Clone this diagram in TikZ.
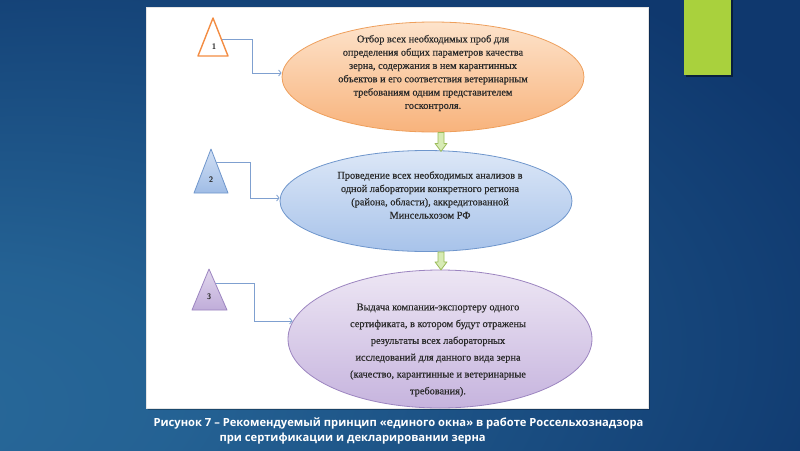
\documentclass[tikz,border=0pt]{standalone}
\usepackage{fontspec}
\setmainfont{Liberation Serif}
\newfontfamily\capfont{Open Sans}
\newfontfamily\ellfont{Liberation Serif}[FakeBold=0.5]
\usetikzlibrary{shapes.geometric,arrows.meta,calc}

\definecolor{bgdark}{HTML}{0F386E}
\definecolor{bglight}{HTML}{28699A}
\definecolor{barlime}{HTML}{A9D13D}
\definecolor{lnblue}{HTML}{7FA0D0}
\definecolor{txtgray}{HTML}{2A2A2A}
\definecolor{orline}{HTML}{EE9F5C}
\definecolor{ortop}{HTML}{FDE3CB}
\definecolor{orbot}{HTML}{F8B37C}
\definecolor{blline}{HTML}{6F96CC}
\definecolor{bltop}{HTML}{DCE7F7}
\definecolor{blbot}{HTML}{A8C3EA}
\definecolor{puline}{HTML}{9C85C0}
\definecolor{putop}{HTML}{EDE6F4}
\definecolor{pubot}{HTML}{C6B4DE}
\definecolor{grline}{HTML}{9BBB59}
\definecolor{grfill}{HTML}{D7EBB4}

\pgfdeclareradialshading{bgglow}{\pgfpoint{-32bp}{-22bp}}{color(0bp)=(bglight); color(14bp)=(bglight!85!bgdark); color(48bp)=(bgdark); color(100bp)=(bgdark)}

\begin{document}
\begin{tikzpicture}[x=1pt,y=-1pt,
  ell/.style={ellipse,inner sep=0pt,line width=.8pt},
  etext/.style={align=center,text=txtgray,font=\ellfont\fontsize{10.3}{13.3}\selectfont},
  num/.style={font=\sffamily\bfseries\fontsize{8}{9}\selectfont,text=txtgray},
  conn/.style={draw=lnblue,line width=.8pt,-{Straight Barb[length=2.5pt,width=6pt]}},
  garrow/.style={draw=grline,fill=grfill,line width=.8pt,line join=round},
  captext/.style={anchor=west,text=white,font=\capfont\bfseries\fontsize{11.2}{13}\selectfont}]

\useasboundingbox (0,0) rectangle (800,450);

\shade [shading=bgglow] (0,0) rectangle (800,450);

\fill [black,opacity=.45] (686,0) rectangle (733,77);
\fill [barlime] (684,0) rectangle (731,75);

\fill [black,opacity=.25] (148,9) rectangle (650,410);
\draw [white!80!gray,fill=white,line width=.6pt] (146,7) rectangle (648,408);

\begin{scope}
\clip (146,7) rectangle (648,410);

\node [ell,draw=orline,top color=ortop,bottom color=orbot,minimum width=302,minimum height=110] (e1) at (433,77) {};
\node [ell,draw=blline,top color=bltop,bottom color=blbot,minimum width=292,minimum height=101] (e2) at (426,201) {};
\node [ell,draw=puline,top color=putop,bottom color=pubot,minimum width=304,minimum height=138] (e3) at (440,339) {};

\node [etext] (t1) at (433,73) {Отбор всех необходимых проб для\\
определения общих параметров качества\\
зерна, содержания в нем карантинных\\
объектов и его соответствия ветеринарным\\
требованиям одним представителем\\
госконтроля.};
\node [etext] (t2) at (430,195) {Проведение всех необходимых анализов в\\
одной лаборатории конкретного региона\\
(района, области), аккредитованной\\
Минсельхозом РФ};
\node [etext,font=\ellfont\fontsize{10.3}{16.8}\selectfont] (t3) at (438,350) {Выдача компании-экспортеру одного\\
сертификата, в котором будут отражены\\
результаты всех лабораторных\\
исследований для данного вида зерна\\
(качество, карантинные и ветеринарные\\
требования).};

\draw [garrow] ($(e1.south)+(5,0)$) -- ++(6,0) -- ++(0,11) -- ++(3,0) -- ++(-6,8) -- ++(-6,-8) -- ++(3,0) -- cycle;
\draw [garrow] ($(e2.south)+(12,0)$) -- ++(6,0) -- ++(0,10) -- ++(3,0) -- ++(-6,8) -- ++(-6,-8) -- ++(3,0) -- cycle;

\coordinate (a1) at (213,18);
\coordinate (l1) at (198,56);
\coordinate (r1) at (228,56);
\coordinate (a2) at (211,149);
\coordinate (l2) at (194,193);
\coordinate (r2) at (228,193);
\coordinate (a3) at (209,269);
\coordinate (l3) at (192,310);
\coordinate (r3) at (227,310);

\coordinate (s1) at ($(a1)!0.55!(r1)$);
\coordinate (s2) at ($(a2)!0.3!(r2)$);
\coordinate (s3) at ($(a3)!0.34!(r3)$);
\coordinate (k1) at (252,73);
\coordinate (k2) at (250,198);
\coordinate (k3) at (254,321);

\draw [conn] (s1) -| (k1) -- (k1 -| e1.west);
\draw [conn] (s2) -| (k2) -- (k2 -| e2.west);
\draw [conn] (s3) -| (k3) -- ($(k3 -| e3.west)+(5,0)$);

\draw [orline!80!red!90!yellow,fill=white,line width=1.4pt,line join=round] (a1) -- (r1) -- (l1) -- cycle;
\draw [blline,top color=bltop!80!blbot,bottom color=blbot!85!blline,line width=.8pt,line join=round] (a2) -- (r2) -- (l2) -- cycle;
\draw [puline,top color=putop!70!pubot,bottom color=pubot!85!puline,line width=.8pt,line join=round] (a3) -- (r3) -- (l3) -- cycle;

\node [num] (n1) at (214,47) {1};
\node [num] (n2) at (211,180) {2};
\node [num] (n3) at (209,297) {3};

\end{scope}

\node [captext] (c1) at (150,423) {Рисунок 7 – Рекомендуемый принцип «единого окна» в работе Россельхознадзора};
\node [captext] (c2) at (216,439) {при сертификации и декларировании зерна};

\end{tikzpicture}
\end{document}
